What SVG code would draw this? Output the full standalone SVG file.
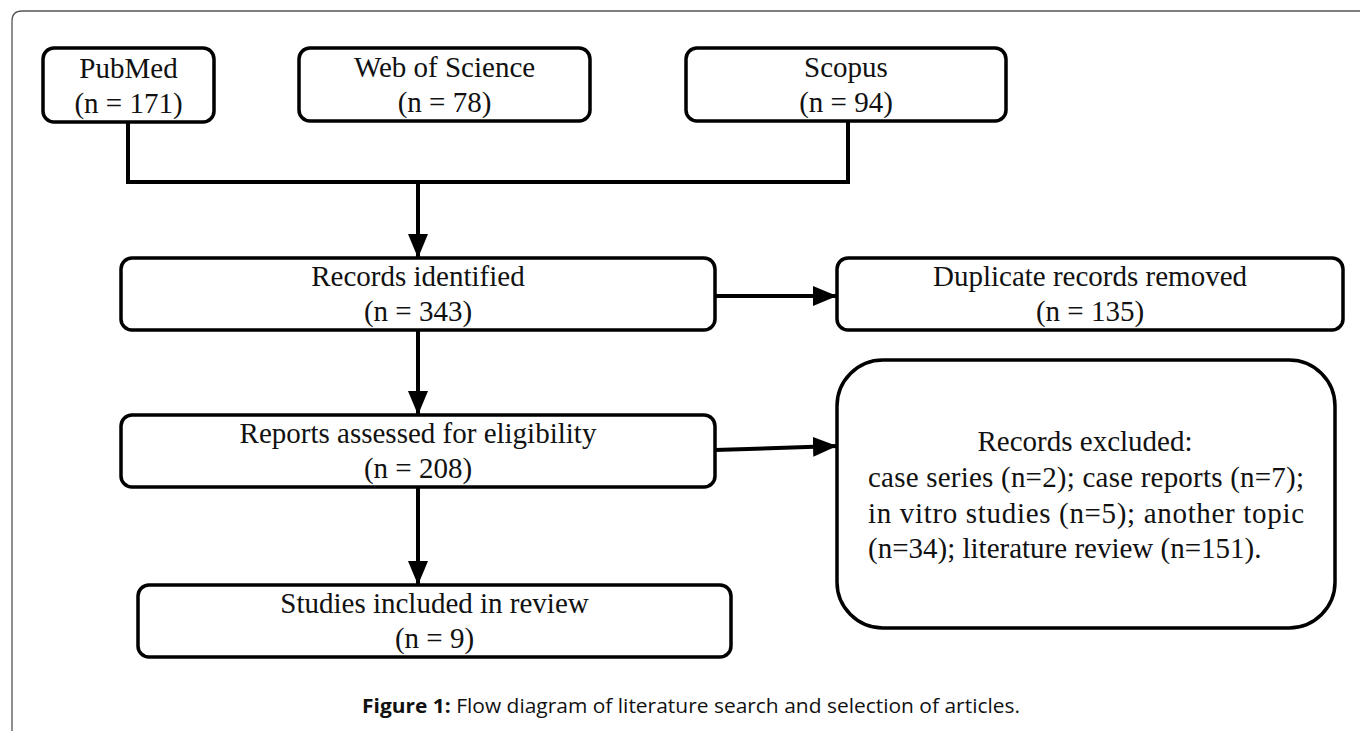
<svg xmlns="http://www.w3.org/2000/svg" width="1360" height="731" viewBox="0 0 1360 731">
<style>
.box{fill:#fff;stroke:#000;stroke-width:3.5}
.t{font-family:"Liberation Serif","Times New Roman",serif;font-size:29px;fill:#111;text-anchor:middle}
.c{stroke:#000;stroke-width:4;fill:none}
.cap{font-family:"Open Sans","Liberation Sans",sans-serif;font-size:20px;fill:#111;text-anchor:middle}
</style>
<defs>
<marker id="a" viewBox="0 0 24 20" refX="24" refY="10" markerWidth="24" markerHeight="20" orient="auto" markerUnits="userSpaceOnUse">
<path d="M0,0 L24,10 L0,20 z" fill="#000"/>
</marker>
</defs>
<rect width="1360" height="731" fill="#fff"/>
<path d="M12,760 L12,21 Q12,11 22,11 L1370,11" fill="none" stroke="#555" stroke-width="1.3"/>
<g id="connectors">
<path class="c" d="M128,122 L128,182 L848,182 L848,121"/>
<path class="c" d="M418,182 L418,258" marker-end="url(#a)"/>
<path class="c" d="M715,296 L837,296" marker-end="url(#a)"/>
<path class="c" d="M418,330 L418,415" marker-end="url(#a)"/>
<path class="c" d="M715,450 L837,446" marker-end="url(#a)"/>
<path class="c" d="M418,487 L418,585" marker-end="url(#a)"/>
</g>
<g id="pubmed">
<rect class="box" x="43" y="48" width="171" height="74" rx="11"/>
<text class="t" x="128.5" y="78">PubMed</text>
<text class="t" x="128.5" y="113">(n = 171)</text>
</g>
<g id="wos">
<rect class="box" x="299" y="48" width="291" height="73" rx="11"/>
<text class="t" x="444.5" y="77">Web of Science</text>
<text class="t" x="444.5" y="112">(n = 78)</text>
</g>
<g id="scopus">
<rect class="box" x="686" y="48" width="320" height="73" rx="11"/>
<text class="t" x="846" y="77">Scopus</text>
<text class="t" x="846" y="112">(n = 94)</text>
</g>
<g id="identified">
<rect class="box" x="121" y="258" width="594" height="72" rx="11"/>
<text class="t" x="418" y="286">Records identified</text>
<text class="t" x="418" y="321">(n = 343)</text>
</g>
<g id="duplicates">
<rect class="box" x="837" y="258" width="506" height="72" rx="11"/>
<text class="t" x="1090" y="286">Duplicate records removed</text>
<text class="t" x="1090" y="321">(n = 135)</text>
</g>
<g id="assessed">
<rect class="box" x="121" y="415" width="594" height="72" rx="11"/>
<text class="t" x="418" y="443">Reports assessed for eligibility</text>
<text class="t" x="418" y="478">(n = 208)</text>
</g>
<g id="excluded">
<rect class="box" x="837" y="360" width="498" height="268" rx="46"/>
<text class="t" x="1085" y="451">Records excluded:</text>
<text class="t" x="868" y="487" style="text-anchor:start" textLength="436" lengthAdjust="spacing">case series (n=2); case reports (n=7);</text>
<text class="t" x="868" y="523" style="text-anchor:start" textLength="436" lengthAdjust="spacing">in vitro studies (n=5); another topic</text>
<text class="t" x="868" y="558" style="text-anchor:start">(n=34); literature review (n=151).</text>
</g>
<g id="included">
<rect class="box" x="138" y="585" width="593" height="72" rx="11"/>
<text class="t" x="434.5" y="613">Studies included in review</text>
<text class="t" x="434.5" y="648">(n = 9)</text>
</g>
<text class="cap" x="691" y="713" textLength="658" lengthAdjust="spacingAndGlyphs"><tspan font-weight="bold">Figure 1:</tspan> Flow diagram of literature search and selection of articles.</text>
</svg>
